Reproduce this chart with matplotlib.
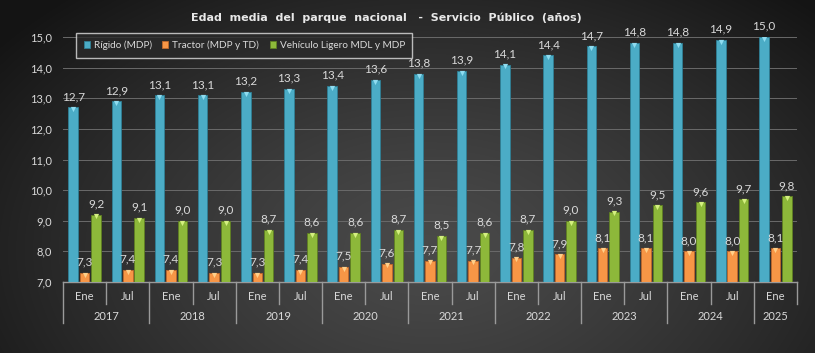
import numpy as np
import matplotlib
matplotlib.use("Agg")
import matplotlib.pyplot as plt
from matplotlib.patches import Patch
from matplotlib.transforms import blended_transform_factory

months = ["Ene", "Jul"] * 8 + ["Ene"]
years = ["2017", "2018", "2019", "2020", "2021", "2022", "2023", "2024", "2025"]
rigido = [12.7, 12.9, 13.1, 13.1, 13.2, 13.3, 13.4, 13.6, 13.8, 13.9, 14.1, 14.4, 14.7, 14.8, 14.8, 14.9, 15.0]
tractor = [7.3, 7.4, 7.4, 7.3, 7.3, 7.4, 7.5, 7.6, 7.7, 7.7, 7.8, 7.9, 8.1, 8.1, 8.0, 8.0, 8.1]
ligero = [9.2, 9.1, 9.0, 9.0, 8.7, 8.6, 8.6, 8.7, 8.5, 8.6, 8.7, 9.0, 9.3, 9.5, 9.6, 9.7, 9.8]
series_names = ["Rígido (MDP)", "Tractor (MDP y TD)", "Vehículo Ligero MDL y MDP"]

W, H = 815, 353
fig = plt.figure(figsize=(W / 100, H / 100), dpi=100)

# background gradient
bg = fig.add_axes([0, 0, 1, 1], zorder=-10)
yy, xx = np.mgrid[0:H, 0:W]
d = np.sqrt(((xx - 430) / 520.0) ** 2 + ((yy - 250) / 330.0) ** 2)
v = 0.29 - 0.20 * np.clip(d, 0, 1.2) ** 1.3
v = np.clip(v, 0.08, 0.3)
img = np.dstack([v, v, v])
bg.imshow(img, aspect="auto", extent=[0, 1, 0, 1], origin="upper")
bg.axis("off")

ax = fig.add_axes([63 / W, 1 - 282 / H, (797 - 63) / W, (282 - 37) / H])
ax.set_facecolor("none")

txt = "#d9d9d9"
font = "Lato"
n = len(months)
x = np.arange(n)
bw = 0.22
off = 0.265
cols = ["#4BACC6", "#F79646", "#8DB83A"]
edges = ["#2f7f95", "#c0682a", "#5f7f22"]
tops = ["#8fdcf0", "#ffd08a", "#d4f080"]
for i, (vals, c, e, t) in enumerate(zip([rigido, tractor, ligero], cols, edges, tops)):
    xs = x + (i - 1) * off
    ax.bar(xs, np.array(vals) - 7.0, bottom=7.0, width=bw, color=c, edgecolor=e, linewidth=0.6, zorder=3)
    ax.scatter(xs, np.array(vals) - 0.06, marker="v", s=14, color=t, zorder=4, linewidths=0)
    for xi, val in zip(xs, vals):
        ax.text(xi, val + 0.17, f"{val:.1f}".replace(".", ","), ha="center", va="bottom",
                fontsize=8.5, color=txt, family=font, zorder=5)

ax.set_ylim(7, 15)
ax.set_xlim(-0.5, n - 0.5)
ax.set_yticks(np.arange(7, 15.01, 1))
ax.set_yticklabels([f"{v:.1f}".replace(".", ",") for v in np.arange(7, 15.01, 1)],
                   fontsize=8, color=txt, family=font)
ax.yaxis.grid(True, color="#6a6a6a", linewidth=0.7, zorder=0)
ax.tick_params(axis="y", length=0, pad=8)
ax.set_xticks([])
for s in ["top", "right", "left"]:
    ax.spines[s].set_visible(False)
ax.spines["bottom"].set_color("#9a9a9a")
ax.spines["bottom"].set_linewidth(1)

tr = blended_transform_factory(ax.transData, ax.transAxes)
axh = 245.0
for i, m in enumerate(months):
    ax.text(i, -14 / axh, m, transform=tr, ha="center", va="center", fontsize=8, color=txt, family=font)
for b in range(n + 1):
    pos = b - 0.5
    L = 41 if (b % 2 == 0) else 22
    ax.plot([pos, pos], [0, -L / axh], transform=tr, color="#9a9a9a", lw=1, clip_on=False)
for k, yv in enumerate(years):
    start = 2 * k - 0.5
    end = min(2 * k + 1.5, n - 0.5)
    ax.text((start + end) / 2, -35 / axh, yv, transform=tr, ha="center", va="center",
            fontsize=8, color=txt, family=font)

handles = [Patch(facecolor=c, edgecolor=e, linewidth=0.6) for c, e in zip(cols, edges)]
leg = ax.legend(handles, series_names, loc="upper left", bbox_to_anchor=(13 / 734, 1 + 4 / 245),
                borderaxespad=0, ncol=3, frameon=True, handlelength=0.6, handleheight=0.6,
                handletextpad=0.4, columnspacing=1.05, borderpad=0.75,
                prop={"family": font, "size": 7.2})
leg.get_frame().set_facecolor("#2a2a2a")
leg.get_frame().set_edgecolor("#e0e0e0")
leg.get_frame().set_linewidth(1)
leg.get_frame().set_boxstyle("square", pad=0)
for t in leg.get_texts():
    t.set_color(txt)

fig.text(386 / W, 1 - 18 / H, "Edad  media  del  parque  nacional   -  Servicio  Público  (años)",
         ha="center", va="center", fontsize=8, fontweight="bold", color="#e8e8e8", family="DejaVu Sans")

fig.savefig("out.png", dpi=100)
